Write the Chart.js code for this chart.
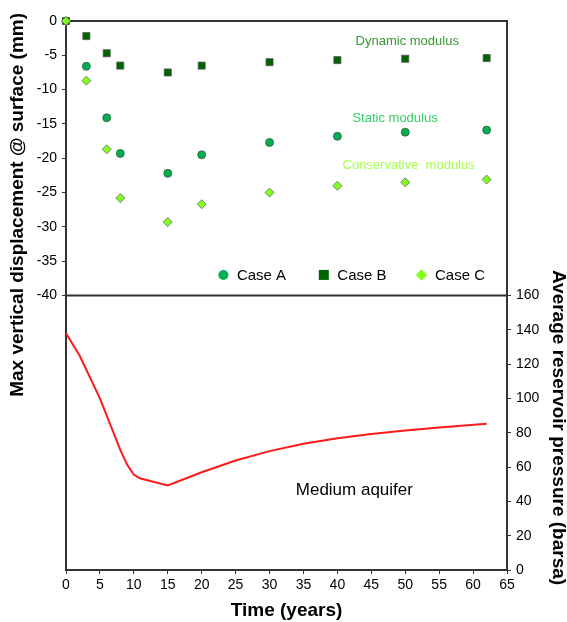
<!DOCTYPE html>
<html lang="en">
<head>
    <meta charset="UTF-8">
    <title>Displacement and reservoir pressure</title>
    <script src="https://cdn.jsdelivr.net/npm/chart.js"></script>
    <style>
        body { margin: 0; background: #fff; }
        #wrap { width: 567px; height: 622px; position: relative; }
    </style>
</head>
<body>
    <div id="wrap"><canvas id="dispChart"></canvas></div>
    <script>
        // survey times (years)
        const caseYears = [0, 3, 6, 8, 15, 20, 30, 40, 50, 62];
        // max vertical displacement at surface (mm)
        const caseA = [0, -6.6, -14.1, -19.3, -22.2, -19.5, -17.7, -16.8, -16.2, -15.9];
        const caseB = [0, -2.2, -4.7, -6.5, -7.5, -6.5, -6.0, -5.7, -5.5, -5.4];
        const caseC = [0, -8.7, -18.7, -25.8, -29.3, -26.7, -25.0, -24.0, -23.5, -23.1];

        // average reservoir pressure (barsa), medium aquifer
        const pressureYears = [0, 2, 5, 8, 9, 10, 11, 15, 20, 25, 30, 35, 40, 45, 50, 55, 62];
        const pressure = [138, 125, 100, 70, 61.5, 55.5, 53.3, 49.3, 57, 63.8, 69.3, 73.6, 76.8, 79.3, 81.3, 83, 85.3];

        const dispTicks = [0, -5, -10, -15, -20, -25, -30, -35, -40];
        const pressTicks = [0, 20, 40, 60, 80, 100, 120, 140, 160];

        const colA = '#00b050', colB = '#006400', colC = '#80ff20';
        const font = '"Liberation Sans", Arial, sans-serif';

        const toPoints = (xs, ys) => xs.map((x, i) => ({ x: x, y: ys[i] }));

        // frame: top border and panel separator
        const framePlugin = {
            id: 'frame',
            beforeDatasetsDraw(chart) {
                const { ctx, chartArea } = chart;
                const yMid = chart.scales.y.getPixelForValue(-40);
                ctx.save();
                ctx.strokeStyle = '#333';
                ctx.lineWidth = 2;
                ctx.beginPath();
                ctx.moveTo(chartArea.left, chartArea.top);
                ctx.lineTo(chartArea.right, chartArea.top);
                ctx.moveTo(chartArea.left, yMid);
                ctx.lineTo(chartArea.right, yMid);
                ctx.stroke();
                ctx.restore();
            }
        };

        function marker(ctx, style, x, y, r, fill) {
            ctx.fillStyle = fill;
            ctx.beginPath();
            if (style === 'circle') {
                ctx.arc(x, y, r, 0, Math.PI * 2);
            } else if (style === 'rect') {
                ctx.rect(x - r, y - r, 2 * r, 2 * r);
            } else {
                ctx.moveTo(x, y - r * 1.15);
                ctx.lineTo(x + r * 1.15, y);
                ctx.lineTo(x, y + r * 1.15);
                ctx.lineTo(x - r * 1.15, y);
                ctx.closePath();
            }
            ctx.fill();
        }

        // labels, legend and the two side titles
        const notesPlugin = {
            id: 'notes',
            afterDatasetsDraw(chart) {
                const { ctx } = chart;
                const sx = chart.scales.x, sy = chart.scales.y, sp = chart.scales.y2;
                ctx.save();
                ctx.textAlign = 'center';
                ctx.textBaseline = 'middle';
                ctx.font = '13px ' + font;
                ctx.fillStyle = '#339933';
                ctx.fillText('Dynamic modulus', sx.getPixelForValue(50.3), sy.getPixelForValue(-3.0));
                ctx.fillStyle = '#33cc66';
                ctx.fillText('Static modulus', sx.getPixelForValue(48.5), sy.getPixelForValue(-14.2));
                ctx.fillStyle = '#a6ff4d';
                ctx.fillText('Conservative  modulus', sx.getPixelForValue(50.5), sy.getPixelForValue(-21.1));
                ctx.font = '17px ' + font;
                ctx.fillStyle = '#000';
                ctx.fillText('Medium aquifer', sx.getPixelForValue(42.5), sp.getPixelForValue(46.7));

                // legend
                const items = [['Case A', 'circle', colA, 23.2], ['Case B', 'rect', colB, 38.0], ['Case C', 'diamond', colC, 52.4]];
                const ly = sy.getPixelForValue(-37.0);
                ctx.textAlign = 'left';
                ctx.font = '15px ' + font;
                items.forEach(([name, style, col, xv]) => {
                    const px = sx.getPixelForValue(xv);
                    marker(ctx, style, px, ly, 5, col);
                    ctx.fillStyle = '#000';
                    ctx.fillText(name, px + 13.5, ly + 1);
                });

                // rotated axis titles
                ctx.textAlign = 'center';
                ctx.font = 'bold 19px ' + font;
                ctx.fillStyle = '#000';
                ctx.save();
                ctx.translate(18, sy.getPixelForValue(-26.8));
                ctx.rotate(-Math.PI / 2);
                ctx.fillText('Max vertical displacement @ surface (mm)', 0, 0);
                ctx.restore();
                ctx.save();
                ctx.translate(558, sp.getPixelForValue(83));
                ctx.rotate(Math.PI / 2);
                ctx.fillText('Average reservoir pressure (barsa)', 0, 0);
                ctx.restore();
                ctx.restore();
            }
        };

        const ctx = document.getElementById('dispChart').getContext('2d');
        new Chart(ctx, {
            type: 'scatter',
            data: {
                datasets: [
                    {
                        label: 'Case A',
                        data: toPoints(caseYears, caseA),
                        yAxisID: 'y',
                        order: 3,
                        clip: false,
                        pointStyle: 'circle',
                        pointRadius: 4,
                        backgroundColor: colA,
                        borderColor: '#3a5a3a',
                        borderWidth: 0.8
                    },
                    {
                        label: 'Case B',
                        data: toPoints(caseYears, caseB),
                        yAxisID: 'y',
                        order: 2,
                        clip: false,
                        pointStyle: 'rect',
                        pointRadius: 5,
                        backgroundColor: colB,
                        borderColor: '#555',
                        borderWidth: 0.8
                    },
                    {
                        label: 'Case C',
                        data: toPoints(caseYears, caseC),
                        yAxisID: 'y',
                        order: 1,
                        clip: false,
                        pointStyle: 'rectRot',
                        pointRadius: 4.5,
                        backgroundColor: colC,
                        borderColor: '#666',
                        borderWidth: 0.8
                    },
                    {
                        label: 'Pressure',
                        data: toPoints(pressureYears, pressure),
                        yAxisID: 'y2',
                        order: 4,
                        showLine: true,
                        pointRadius: 0,
                        borderColor: '#ff1a1a',
                        borderWidth: 2,
                        tension: 0
                    }
                ]
            },
            options: {
                responsive: true,
                maintainAspectRatio: false,
                animation: false,
                layout: { padding: { top: 21, left: 0, right: 0, bottom: 0 } },
                plugins: {
                    legend: { display: false },
                    tooltip: { enabled: false }
                },
                scales: {
                    x: {
                        type: 'linear',
                        min: 0,
                        max: 65,
                        ticks: { stepSize: 5, color: '#000', font: { family: font, size: 14 }, padding: 3 },
                        grid: { drawOnChartArea: false, tickLength: 4, color: '#333' },
                        border: { color: '#333', width: 2 },
                        title: { display: true, text: 'Time (years)', color: '#000', font: { family: font, size: 19, weight: 'bold' }, padding: { top: 2, bottom: 0 } },
                        afterFit(scale) { scale.height = 52; }
                    },
                    y: {
                        position: 'left',
                        min: -80,
                        max: 0,
                        afterBuildTicks(scale) { scale.ticks = dispTicks.map(v => ({ value: v })); },
                        ticks: { color: '#000', font: { family: font, size: 14 }, padding: 5 },
                        grid: { drawOnChartArea: false, tickLength: 4, color: '#333' },
                        border: { color: '#333', width: 2 },
                        title: { display: false },
                        afterFit(scale) { scale.width = 66; }
                    },
                    y2: {
                        position: 'right',
                        min: 0,
                        max: 320,
                        afterBuildTicks(scale) { scale.ticks = pressTicks.map(v => ({ value: v })); },
                        ticks: { color: '#000', font: { family: font, size: 14 }, padding: 5 },
                        grid: { drawOnChartArea: false, tickLength: 4, color: '#333' },
                        border: { color: '#333', width: 2 },
                        title: { display: false },
                        afterFit(scale) { scale.width = 60; }
                    }
                }
            },
            plugins: [framePlugin, notesPlugin]
        });
    </script>
</body>
</html>
